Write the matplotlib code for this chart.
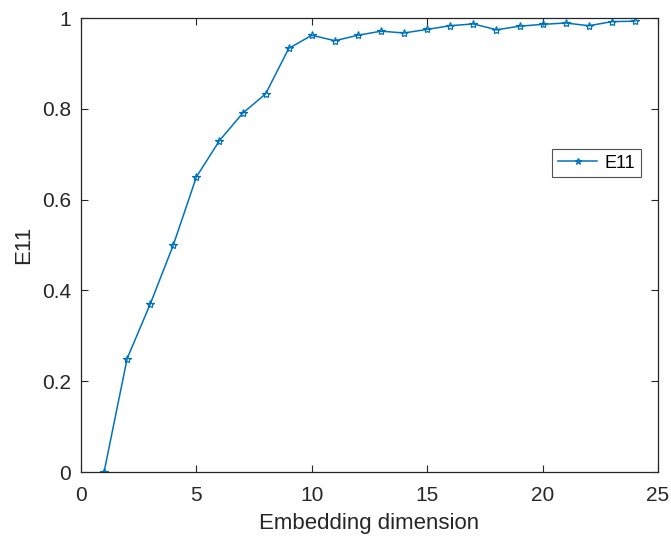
import numpy as np
import matplotlib.pyplot as plt

plt.rcParams['font.family'] = ['Liberation Sans', 'DejaVu Sans']

# embedding dimension vs E11
dims = np.arange(1, 25)
e11 = [0.0, 0.25, 0.37, 0.50, 0.65, 0.73, 0.79, 0.833, 0.933, 0.962,
       0.950, 0.962, 0.971, 0.967, 0.975, 0.983, 0.987, 0.974, 0.982, 0.986,
       0.989, 0.983, 0.992, 0.993]

xticks = [0, 5, 10, 15, 20, 25]
yticks = [0, 0.2, 0.4, 0.6, 0.8, 1]
yticklabels = ['0', '0.2', '0.4', '0.6', '0.8', '1']

matlab_blue = '#0072BD'
axis_gray = '#262626'


def main():
    fig = plt.figure(figsize=(6.71, 5.39), dpi=100)
    ax = fig.add_axes([0.1207, 0.1243, 0.86, 0.8423])

    ax.plot(dims, e11, '-', color=matlab_blue, linewidth=1.1,
            marker='*', markersize=6, markerfacecolor='none',
            markeredgewidth=0.9, label='E11')

    ax.set_xlim(0, 25)
    ax.set_ylim(0, 1)
    ax.set_xticks(xticks)
    ax.set_yticks(yticks)
    ax.set_yticklabels(yticklabels)

    ax.tick_params(direction='in', top=True, right=True, length=5,
                   width=0.8, colors=axis_gray, labelsize=15)
    ax.tick_params(axis='x', pad=10)
    ax.tick_params(axis='y', pad=7)
    for s in ax.spines.values():
        s.set_color(axis_gray)
        s.set_linewidth(0.9)

    ax.set_xlabel('Embedding dimension', fontsize=16, color=axis_gray, labelpad=6)
    ax.set_ylabel('E11', fontsize=16, color=axis_gray, labelpad=6)

    leg = ax.legend(loc='center right', bbox_to_anchor=(0.97, 0.68),
                    fontsize=13, frameon=True, fancybox=False,
                    handlelength=2.2, borderpad=0.3, handletextpad=0.4,
                    borderaxespad=0, markerscale=0.8)
    leg.get_frame().set_edgecolor(axis_gray)
    leg.get_frame().set_linewidth(0.8)

    fig.savefig('out.png', dpi=100)


if __name__ == "__main__":
    main()
